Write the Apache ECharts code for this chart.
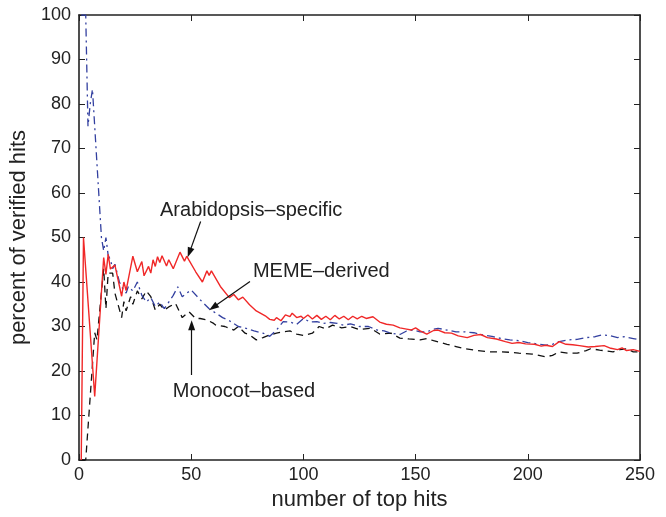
<!DOCTYPE html>
<html>
<head>
<meta charset="utf-8">
<script src="https://cdn.jsdelivr.net/npm/echarts@6/dist/echarts.min.js"></script>
<style>
  html, body { margin: 0; padding: 0; background: #fff; }
  #chart { width: 666px; height: 517px; }
</style>
</head>
<body>
<div id="chart"></div>
<script>
// values: x = number of top hits, y = percent verified
var arabX = [1, 2, 7, 11, 12, 13, 14, 16, 19, 20, 21, 24, 26, 28, 29, 31, 32, 33, 34, 35, 36, 37, 39, 40, 42, 45, 47, 48, 49, 52, 55, 57, 58, 59, 63, 67, 69, 71, 73, 76, 79, 83, 85, 87, 88, 90, 92, 94, 95, 97, 99, 100, 102, 104, 106, 108, 110, 112, 114, 116, 118, 120, 122, 124, 126, 128, 131, 134, 137, 140, 143, 146, 148, 150, 152, 155, 158, 160, 163, 166, 169, 173, 176, 179, 182, 186, 190, 193, 196, 199, 203, 206, 208, 211, 214, 217, 220, 223, 227, 230, 234, 237, 240, 242, 244, 247, 250];
var arabY = [0, 50, 14.3, 45.5, 41.7, 46.2, 42.9, 43.8, 36.8, 40, 38.1, 45.8, 42.3, 44.6, 41.4, 43.5, 42, 45, 43.5, 45.7, 44.4, 45.9, 43.6, 45, 43, 46.7, 44.7, 45.8, 44.9, 42.3, 40, 42.5, 41.5, 42.5, 39, 36.5, 37.2, 36, 36.6, 34.9, 33.5, 32.4, 31.6, 31.4, 32, 31.3, 32.6, 32.2, 33, 32, 32.3, 31.8, 32.6, 31.7, 32.5, 31.6, 32.3, 31.5, 32.5, 31.7, 32.3, 31.5, 32.3, 31.7, 32.3, 31.8, 32.2, 31, 30.5, 30.3, 29.7, 29.4, 29.2, 29.7, 29, 28.3, 29.1, 29.2, 28.6, 28.5, 27.9, 27.5, 28, 28.2, 27.5, 27.2, 26.6, 26.2, 26.4, 26.1, 26, 25.6, 25.8, 25.5, 26.6, 26, 25.9, 25.7, 25.4, 25.5, 25.7, 25.1, 24.8, 25.2, 24.6, 24.8, 24.4];

var memeX = [1, 3, 4, 5, 6, 10, 11, 12, 13, 14, 15, 16, 18, 20, 21, 22, 24, 26, 28, 30, 32, 34, 36, 38, 40, 42, 44, 46, 48, 50, 54, 58, 61, 64, 67, 71, 75, 78, 82, 85, 88, 91, 94, 97, 100, 103, 106, 109, 112, 115, 118, 121, 125, 129, 133, 136, 139, 143, 146, 149, 152, 155, 158, 160, 164, 168, 172, 176, 180, 184, 188, 192, 196, 200, 204, 208, 211, 214, 218, 222, 226, 230, 233, 236, 240, 243, 247, 250];
var memeY = [100, 100, 75, 80, 83.3, 50, 47, 50, 46, 45, 43, 44, 40, 38, 37.5, 39, 38, 40, 37, 35.5, 36.5, 34.5, 35.5, 34, 35.5, 37, 38.9, 36.7, 37.5, 38.2, 36, 34, 33, 32, 31.3, 30, 29.5, 29, 28.5, 27.8, 29.2, 31.1, 31, 30.5, 31.8, 31, 31.1, 30.7, 30.9, 30.7, 30.3, 30.6, 30, 30, 29.2, 29, 28.5, 28.2, 29, 29.2, 28.8, 28.8, 29.4, 29.6, 29.2, 28.8, 28.8, 28.6, 28.1, 27.8, 27.3, 27, 26.8, 26.4, 26.1, 25.8, 26, 26.6, 27, 27.1, 27.5, 27.7, 28.1, 28, 27.5, 27.7, 27.3, 27];

var monoX = [1, 3, 7, 8, 11, 12, 13, 15, 16, 19, 20, 21, 23, 24, 26, 28, 30, 32, 34, 36, 38, 40, 43, 46, 49, 52, 54, 57, 60, 61, 65, 69, 71, 74, 76, 79, 82, 85, 88, 91, 94, 97, 100, 104, 107, 110, 113, 117, 121, 125, 130, 134, 139, 143, 147, 152, 155, 158, 164, 168, 172, 176, 183, 188, 192, 196, 202, 208, 211, 214, 218, 222, 226, 228, 232, 235, 238, 241, 244, 247, 250];
var monoY = [0, 0, 28.6, 27, 43, 34, 42, 42, 37.5, 32, 35.6, 33.5, 36.7, 35, 38, 36.2, 38, 36.7, 33.7, 35, 33.7, 34.4, 35.2, 32, 33.3, 31.8, 31.8, 31.5, 30.7, 30.3, 30, 29.2, 30, 28.5, 28.1, 27, 27.5, 28.1, 28.5, 28.8, 29, 28.3, 28, 28.5, 30, 29.5, 30.3, 29.7, 30, 29.3, 29.6, 28.3, 28.5, 27.4, 27.2, 27, 27.3, 26.8, 26, 25.5, 25, 24.7, 24.3, 24.3, 24.2, 24, 23.8, 23.2, 23.5, 24.3, 24, 24, 24.6, 25, 24.7, 24.5, 24.3, 24.8, 25, 24.3, 24.3];

var xTicks = [0, 50, 100, 150, 200, 250];
var yTicks = [0, 10, 20, 30, 40, 50, 60, 70, 80, 90, 100];

// annotation text + arrow (start -> tip), in data units
var notes = [
  { text: 'Arabidopsis\u2013specific', at: [36.1, 56.2], from: [54.2, 53.6], to: [49.2, 46.6] },
  { text: 'MEME\u2013derived', at: [77.5, 42.7], from: [76.2, 40.1], to: [59.8, 34.3] },
  { text: 'Monocot\u2013based', at: [41.8, 15.6], from: [50.2, 19.1], to: [50.2, 30.3] }
];

function pairs(xs, ys) {
  return xs.map(function (x, i) { return [x, ys[i]]; });
}

var font = "'Liberation Sans', Arial, Helvetica, sans-serif";
var frame = { show: true, onZero: false, lineStyle: { color: '#222', width: 1.6 } };
var tick = { show: true, inside: true, length: 6, lineStyle: { color: '#222', width: 1 } };

var myChart = echarts.init(document.getElementById('chart'));
var option = {
  animation: false,
  backgroundColor: '#fff',
  grid: { left: 79, right: 26, top: 15, bottom: 57 },
  xAxis: [
    {
      type: 'value', min: 0, max: 250, interval: 50,
      name: 'number of top hits', nameLocation: 'middle', nameGap: 23,
      nameTextStyle: { fontFamily: font, fontSize: 22, color: '#222' },
      axisLine: frame, axisTick: tick, splitLine: { show: false },
      axisLabel: { fontFamily: font, fontSize: 18, color: '#222', margin: 6,
        formatter: function (v) { return xTicks.indexOf(v) >= 0 ? String(v) : ''; } }
    },
    {
      type: 'value', min: 0, max: 250, interval: 50, position: 'top',
      axisLine: frame, axisTick: tick, axisLabel: { show: false }, splitLine: { show: false }
    }
  ],
  yAxis: [
    {
      type: 'value', min: 0, max: 100, interval: 10,
      name: 'percent of verified hits', nameLocation: 'middle', nameGap: 38,
      nameTextStyle: { fontFamily: font, fontSize: 22, color: '#222' },
      axisLine: frame, axisTick: tick, splitLine: { show: false },
      axisLabel: { fontFamily: font, fontSize: 18, color: '#222', margin: 8,
        formatter: function (v) { return yTicks.indexOf(v) >= 0 ? String(v) : ''; } }
    },
    {
      type: 'value', min: 0, max: 100, interval: 10, position: 'right',
      axisLine: frame, axisTick: tick, axisLabel: { show: false }, splitLine: { show: false }
    }
  ],
  series: [
    {
      name: 'Monocot-based', type: 'line', showSymbol: false, symbol: 'none',
      data: pairs(monoX, monoY),
      lineStyle: { color: '#111', width: 1.3, type: [7, 5] },
      markLine: {
        silent: true, animation: false,
        symbol: ['none', 'triangle'], symbolSize: [7, 10],
        label: { show: false },
        lineStyle: { color: '#111', width: 1.2, type: 'solid' },
        data: notes.map(function (n) {
          return [{ coord: n.from }, { coord: n.to }];
        })
      }
    },
    {
      name: 'MEME-derived', type: 'line', showSymbol: false, symbol: 'none',
      data: pairs(memeX, memeY),
      lineStyle: { color: '#3340a0', width: 1.3, type: [8, 4, 2, 4] }
    },
    {
      name: 'Arabidopsis-specific', type: 'line', showSymbol: false, symbol: 'none',
      data: pairs(arabX, arabY),
      lineStyle: { color: '#f02828', width: 1.4 }
    }
  ]
};
myChart.setOption(option);

// place the annotation labels from data coords
myChart.setOption({
  graphic: notes.map(function (n) {
    var p = myChart.convertToPixel({ gridIndex: 0 }, n.at);
    return {
      type: 'text', left: p[0], top: p[1] - 9, silent: true,
      style: { text: n.text, font: '20px ' + font, fill: '#222' }
    };
  })
});
</script>
</body>
</html>
